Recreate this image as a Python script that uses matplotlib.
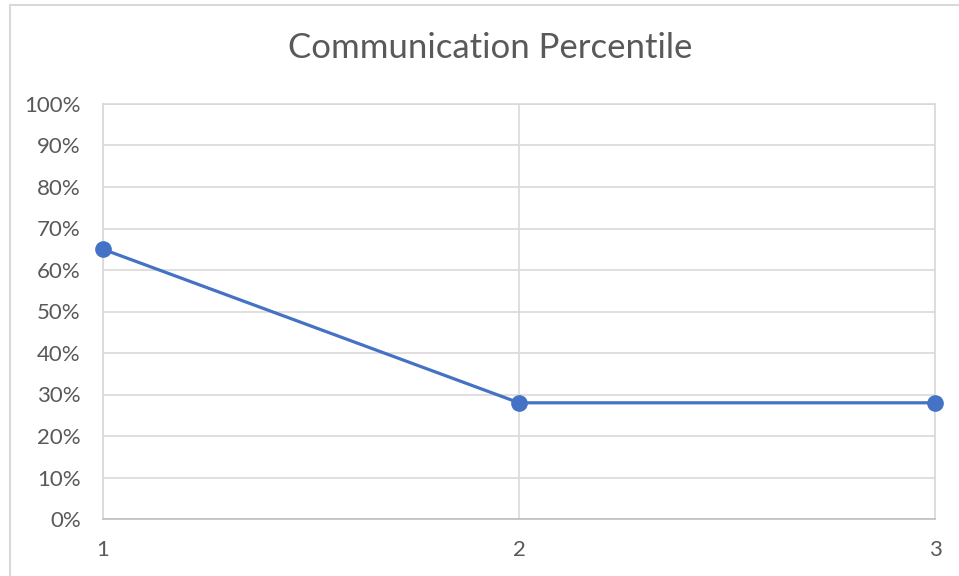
import matplotlib
matplotlib.use('Agg')
import matplotlib.pyplot as plt
from matplotlib.patches import Rectangle
from matplotlib.ticker import PercentFormatter

plt.rcParams['font.family'] = ['Lato', 'DejaVu Sans']

# series
steps = [1, 2, 3]
percentile = [0.65, 0.28, 0.28]
y_ticks = [i / 10 for i in range(11)]

grey_text = '#595959'
grid_col = '#D9D9D9'
blue = '#4472C4'

fig = plt.figure(figsize=(9.59, 5.76), dpi=100)
ax = fig.add_axes([103 / 959, 1 - 519 / 576, (935 - 103) / 959, (519 - 104) / 576])

# chart area border (runs off the right and bottom edges)
fig.patches.append(Rectangle((10 / 959, -0.05), 1.0, 1 - 5 / 576 + 0.05,
                             transform=fig.transFigure, fill=False,
                             edgecolor=grid_col, linewidth=1.5))

ax.plot(steps, percentile, color=blue, linewidth=2.3, marker='o',
        markersize=11, zorder=3, clip_on=False)

ax.set_xlim(1, 3)
ax.set_ylim(0, 1)
ax.set_xticks(steps)
ax.set_yticks(y_ticks)
ax.yaxis.set_major_formatter(PercentFormatter(1.0, decimals=0))

ax.grid(True, color=grid_col, linewidth=1.2)
ax.set_axisbelow(True)
for side in ax.spines.values():
    side.set_color(grid_col)
    side.set_linewidth(1.2)
ax.spines['bottom'].set_color('#BFBFBF')

ax.tick_params(axis='both', length=0, labelsize=16, labelcolor=grey_text)
ax.tick_params(axis='y', pad=16)
ax.tick_params(axis='x', pad=15)

fig.text(490 / 959, 1 - 48 / 576, 'Communication Percentile', ha='center',
         va='center', fontsize=25, color=grey_text)

fig.savefig('out.png', dpi=100)
